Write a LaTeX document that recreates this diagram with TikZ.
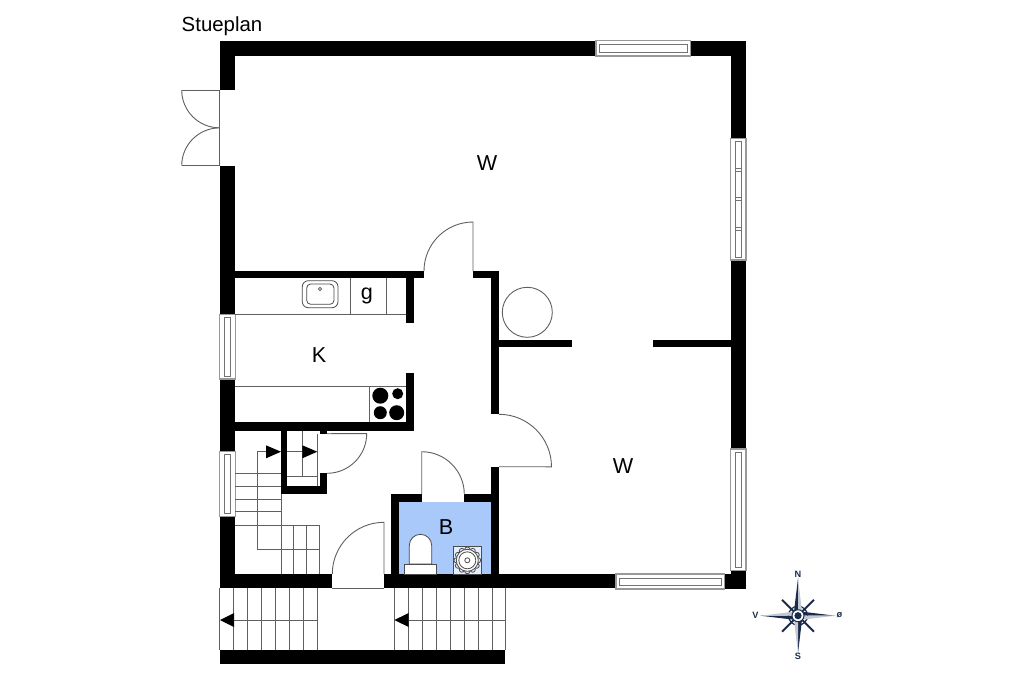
\documentclass[tikz,border=0pt]{standalone}
\usepackage{fontspec}
\setmainfont{Liberation Sans}
\definecolor{linegray}{HTML}{606060}
\definecolor{bathblue}{HTML}{A9C9FA}
\definecolor{compassnavy}{HTML}{1B2B4B}
\definecolor{compasspale}{HTML}{C4C8D0}
\tikzset{
  wall/.style={fill=black},
  thinline/.style={draw=linegray, line width=0.45pt},
  fixture/.style={draw=black!70, line width=0.4pt},
  pane/.style={draw=black!40, line width=0.65pt, fill=white},
  innerpane/.style={draw=black!55, line width=0.35pt, fill=white},
  roomlabel/.style={font=\fontsize{10.8}{12}\selectfont, inner sep=0pt},
  titlelabel/.style={font=\fontsize{10.2}{12}\selectfont, inner sep=0pt},
  compasslabel/.style={font=\bfseries\fontsize{4.6}{5}\selectfont, text=compassnavy, inner sep=0pt}
}
\begin{document}
\begin{tikzpicture}[x=0.5pt, y=-0.5pt]
  \useasboundingbox (0,0) rectangle (1024,682);
  \fill[white] (0,0) rectangle (1024,682);
  % bathroom floor
  \fill[bathblue] (399,502) rectangle (491,574);
  % walls
  \foreach \xa/\ya/\xb/\yb in {
    219.5/40.5/596/56, 690.7/40.5/746/56, 219.5/40.5/235.3/90, 219.5/165.7/235.3/314.3,
    219.5/379/235.3/451.7, 219.5/516.7/235.3/588.3, 219.5/574/332.3/588.3, 384/574/616/588.3,
    724.3/574/746/589, 730.7/570.7/746/589, 730.7/40.5/746/138.3, 730.7/260/746/449,
    235/270.7/424/278, 473/270.7/499/278, 490.7/270.7/499/414.3, 490.7/466.7/499/574,
    405.7/278/414.3/323.3, 499/339.7/572/347.3, 653/339.7/731/347.3,
    405.7/372.7/414.3/430.7, 235/422.3/414.3/430.7, 281/422.3/287.3/494, 281/486/327/494,
    320/473.3/327/494, 320/430/327/434, 391/494.3/421.7/502, 464/494.3/491/502,
    391/494.3/399.3/574, 219.5/650/505.3/664.3}
    \fill[wall] (\xa,\ya) rectangle (\xb,\yb);
  % windows
  \foreach \xa/\ya/\xb/\yb in {596/40.5/690.7/56, 616/574/724.3/589}
  {
    \draw[pane] (\xa,\ya) rectangle (\xb,\yb);
    \draw[innerpane] (\xa+3.5,\ya+4.2) rectangle (\xb-3,\yb-4);
  }
  \foreach \xa/\ya/\xb/\yb in {730.7/138.3/746/260, 730.7/449/746/570.7, 219.5/314.3/235.3/379, 219.5/451.7/235.3/516.7}
  {
    \draw[pane] (\xa,\ya) rectangle (\xb,\yb);
    \draw[innerpane] (\xa+4.8,\ya+3) rectangle (\xb-4.8,\yb-3);
  }
  \foreach \ymull in {170,199,229}
    \draw[innerpane] (735.5,\ymull-1.5) rectangle (741.5,\ymull+1.5);
  % doors
  \draw[thinline] (181.7,90) -- (219.5,90) -- (219.5,165.7) -- (181.7,165.7);
  \draw[thinline] (181.7,90) arc[start angle=180, end angle=90, radius=37.8];
  \draw[thinline] (181.7,165.7) arc[start angle=180, end angle=270, radius=37.8];
  \draw[thinline] (424,271) arc[start angle=180, end angle=270, radius=49] -- (473,271);
  \draw[thinline] (499,414.3) arc[start angle=-90, end angle=0, radius=52.5] -- (499,466.7);
  \draw[thinline] (327,473.3) arc[start angle=90, end angle=0, radius=39.7] -- (327,433.7);
  \draw[thinline] (421.7,494.3) -- (421.7,451.7) arc[start angle=-90, end angle=0, radius=42.6];
  \draw[thinline] (332.3,574) arc[start angle=180, end angle=270, radius=51.7] -- (384,574);
  \draw[thinline] (332.3,588.3) -- (384,588.3);
  % stairs inside
  \foreach \ystep in {473,486,499,511.7}
    \draw[thinline] (235,\ystep) -- (281,\ystep);
  \foreach \xstep in {281,293.7,306,319}
    \draw[thinline] (\xstep,525) -- (\xstep,574);
  \draw[thinline] (281,494) -- (281,525);
  \draw[thinline] (235,525) -- (319,525);
  \draw[thinline] (266,451.7) -- (257.7,451.7) -- (257.7,549.3) -- (319,549.3);
  \draw[thinline] (287,451.7) -- (302.3,451.7);
  \draw[thinline] (302.3,430.7) -- (302.3,476.7);
  \draw[thinline] (287,476.7) -- (317.7,476.7);
  \draw[thinline] (317.7,434) -- (317.7,486);
  \fill[black] (266,445.3) -- (266,458.3) -- (281,451.7) -- cycle;
  \fill[black] (302.3,445.3) -- (302.3,458.3) -- (317.3,451.7) -- cycle;
  % stairs outside
  \draw[thinline] (219.5,588.3) -- (219.5,650);
  \foreach \xstep in {233.7,247.3,261.3,275.3,289.3,303.3,317.3,394.3,408.7,422.3,436.3,450,464,478,492,505.5}
    \draw[thinline] (\xstep,588.3) -- (\xstep,650);
  \draw[thinline] (317.3,620) -- (233.7,620);
  \draw[thinline] (505.5,620) -- (408.7,620);
  \fill[black] (220,620) -- (234,613) -- (234,627) -- cycle;
  \fill[black] (394.3,620) -- (408.7,613) -- (408.7,627) -- cycle;
  % kitchen
  \draw[thinline] (235,314) -- (405.7,314);
  \draw[thinline] (350,278) -- (350,314);
  \draw[thinline] (386.3,278) -- (386.3,314);
  \draw[fixture, rounded corners=3pt] (302.3,280.7) rectangle (338,307.7);
  \draw[fixture, rounded corners=2pt] (306.7,284) rectangle (334,304.3);
  \draw[fixture] (320,289) circle (1.6);
  \draw[thinline] (235,386) -- (405.7,386);
  \draw[thinline] (369.7,386) -- (369.7,422.3);
  \foreach \xplate/\yplate/\rplate in {380.3/395.7/8, 397.7/393.7/5.5, 380.3/412.7/6.5, 396.7/412.7/7.5}
    \fill[black] (\xplate,\yplate) circle (\rplate);
  % table
  \draw[thinline] (527.3,312.3) circle (25);
  % bathroom
  \draw[fixture, fill=white] (409.3,564) -- (409.3,545.5) arc[start angle=180, end angle=360, radius=11.2] -- (431.7,564) -- cycle;
  \draw[fixture, fill=white] (404.3,564) rectangle (436,574);
  \draw[fixture, fill=white!70!bathblue] (453.3,546) rectangle (481.7,574);
  \foreach \ang in {0,30,...,330}
    \draw[fixture] (467.3,560.3) ++(\ang:10.8) circle (2.6);
  \draw[fixture, fill=white] (467.3,560.3) circle (11);
  \draw[fixture] (467.3,560.3) circle (8.5);
  \draw[fixture] (467.3,560.3) circle (2.5);
  % labels
  \node[titlelabel] (title) at (222,26.5) {Stueplan};
  \node[roomlabel] (roomW) at (487,163) {W};
  \node[roomlabel] (roomWb) at (623,466) {W};
  \node[roomlabel] (roomK) at (319,355) {K};
  \node[roomlabel] (roomG) at (367,295.5) {g};
  \node[roomlabel] (roomB) at (446,527) {B};
  % compass
  \coordinate (compass) at (798,615.7);
  \foreach \ang in {45,135}
    \draw[compassnavy, line width=1pt] (compass) ++(\ang:22.5) -- ++(\ang+180:45);
  \draw[compassnavy, line width=0.6pt] (compass) circle (9.5);
  \foreach \ang in {-90,0,90,180}
  {
    \fill[compassnavy] (compass) -- ++(\ang:37.5) -- ([shift={(\ang-90:4.5)}]compass) -- cycle;
    \fill[compasspale] (compass) -- ++(\ang:37.5) -- ([shift={(\ang+90:4.5)}]compass) -- cycle;
  }
  \draw[compassnavy, line width=0.5pt, fill=white] (compass) circle (6);
  \fill[compassnavy] (compass) circle (3.6);
  \node[compasslabel] (north) at (798,574.5) {N};
  \node[compasslabel] (south) at (798,656.5) {S};
  \node[compasslabel] (west) at (755.5,615.5) {V};
  \node[compasslabel] (east) at (839.5,615.5) {ø};
\end{tikzpicture}
\end{document}
